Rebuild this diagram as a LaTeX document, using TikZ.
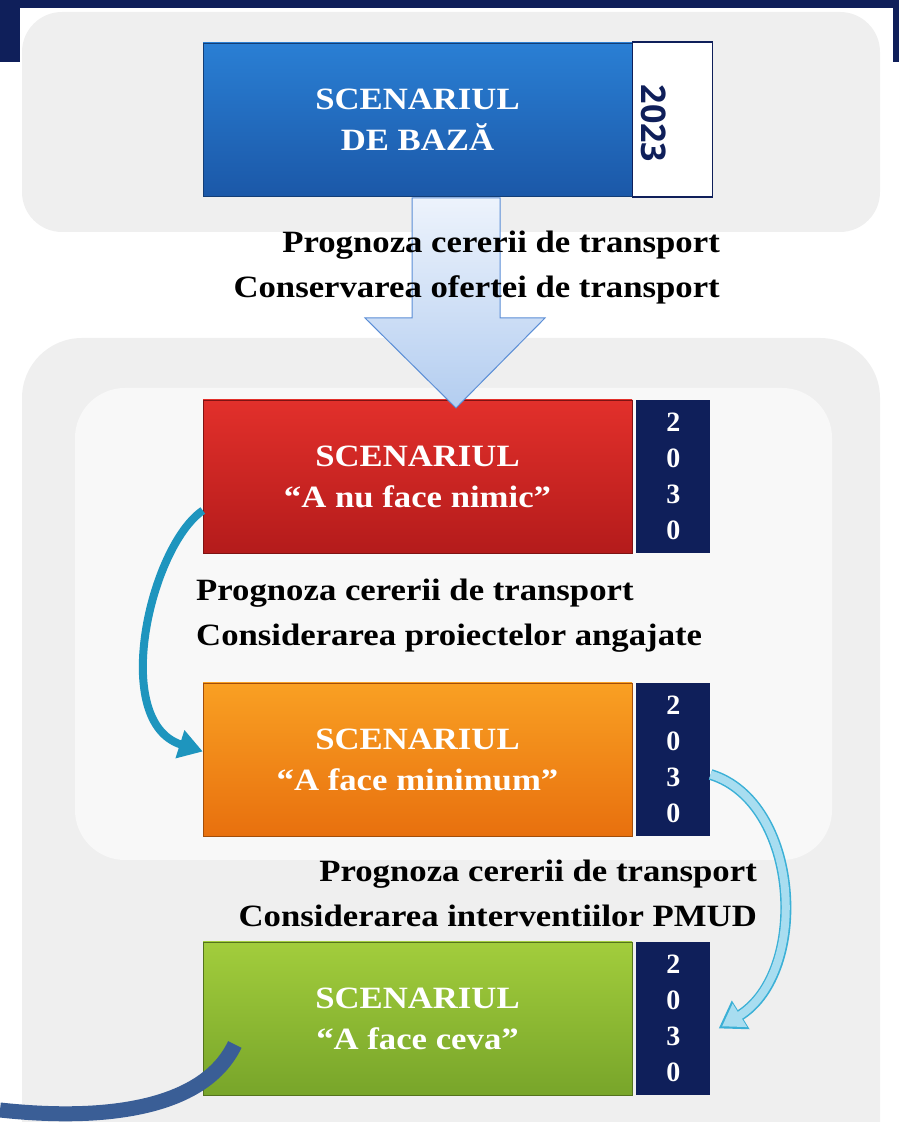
\documentclass[tikz,border=0pt]{standalone}
\usepackage{fontspec}
\setmainfont{Liberation Serif}
\newfontfamily\notefont[FakeStretch=1.12]{Liberation Serif}
\newfontfamily\yearfont{Open Sans}
\usetikzlibrary{positioning,arrows.meta,calc}

\definecolor{navy}{HTML}{0F1F5A}
\definecolor{panelgray}{HTML}{EFEFEF}
\definecolor{panellight}{HTML}{F8F8F8}
\definecolor{arrowline}{HTML}{5B8ED6}
\definecolor{arrowtop}{HTML}{EDF3FC}
\definecolor{arrowbot}{HTML}{B3CDF0}
\definecolor{tealblue}{HTML}{1E95BE}
\definecolor{skyfill}{HTML}{A8DDF0}
\definecolor{skyline}{HTML}{3BB0D6}
\definecolor{bandblue}{HTML}{3A5E96}
\definecolor{bluetop}{HTML}{2A7FD4}
\definecolor{bluebot}{HTML}{1B58A8}
\definecolor{redtop}{HTML}{E2302B}
\definecolor{redbot}{HTML}{B41B1B}
\definecolor{orangetop}{HTML}{F9A023}
\definecolor{orangebot}{HTML}{E8700E}
\definecolor{greentop}{HTML}{A2CD3C}
\definecolor{greenbot}{HTML}{78A52A}

\tikzset{
  scenbox/.style={minimum width=429pt, minimum height=153pt, inner sep=0pt,
    align=center, text=white, font=\fontsize{31}{41}\notefont\bfseries},
  yearbox/.style={minimum width=74pt, minimum height=153pt, inner sep=0pt,
    fill=navy, align=center, text=white, font=\fontsize{28}{36}\selectfont\bfseries},
  note/.style={inner sep=0pt, font=\fontsize{31}{45}\notefont\bfseries},
}

\begin{document}
\begin{tikzpicture}[x=1pt, y=1pt]
  \useasboundingbox (0,0) rectangle (899,1122);
  % panels
  \fill[panelgray, rounded corners=40pt] (22,890) rectangle (880,1110);
  \fill[panelgray, rounded corners=60pt] (22,-60) rectangle (880,784);
  \fill[panellight, rounded corners=50pt] (75,262) rectangle (832,734);
  % frame
  \fill[navy] (0,1114) rectangle (899,1122);
  \fill[navy] (0,1060) rectangle (20,1122);
  \fill[navy] (893,1060) rectangle (899,1122);

  % scenarios
  \node[scenbox, top color=bluetop, bottom color=bluebot, draw=bluebot!70!black]
        (base) at (417.5,1002.5) {SCENARIUL\\DE BAZĂ};
  \node[minimum width=80pt, minimum height=155pt, inner sep=0pt, fill=white,
        draw=navy, line width=1.2pt, right=0pt of base] (ybase) {};
  \node[rotate=-90, text=navy, font=\fontsize{34}{36}\selectfont\yearfont\bfseries]
        at ([xshift=-19pt,yshift=-4pt]ybase.center) {2023};

  \node[scenbox, top color=redtop, bottom color=redbot, draw=redbot!70!black]
        (nimic) at (417.5,645.5) {SCENARIUL\\“A nu face nimic”};
  \node[yearbox, right=4pt of nimic] (ynimic) {2\\0\\3\\0};

  \node[scenbox, top color=orangetop, bottom color=orangebot, draw=orangebot!70!black]
        (minimum) at (417.5,362.5) {SCENARIUL\\“A face minimum”};
  \node[yearbox, right=4pt of minimum] (yminimum) {2\\0\\3\\0};

  \node[scenbox, top color=greentop, bottom color=greenbot, draw=greenbot!70!black]
        (ceva) at (417.5,103.5) {SCENARIUL\\“A face ceva”};
  \node[yearbox, right=4pt of ceva] (yceva) {2\\0\\3\\0};

  % big arrow from base to nimic
  \coordinate (atop) at (456,924);
  \coordinate (atip) at (456,714);
  \shade[top color=arrowtop, bottom color=arrowbot, draw=arrowline, line width=1pt]
    ($(atop)+(-44,0)$) -- ($(atop)+(44,0)$) -- ($(atip)+(44,90)$) -- ($(atip)+(89,90)$)
    -- (atip) -- ($(atip)+(-91,90)$) -- ($(atip)+(-44,90)$) -- cycle;

  % labels
  \node[note, anchor=east, align=right] (n1) at (720,854)
    {Prognoza cererii de transport\\Conservarea ofertei de transport};
  \node[note, anchor=west, align=left] (n2) at (196,506)
    {Prognoza cererii de transport\\Considerarea proiectelor angajate};
  \node[note, anchor=east, align=right] (n3) at (757,229)
    {Prognoza cererii de transport\\Considerarea interventiilor PMUD};

  % curved connectors
  \draw[tealblue, line width=8pt, -{Triangle[width=28pt,length=24pt]}]
    ([yshift=-34pt]nimic.west) .. controls (150,575) and (110,400) .. ([yshift=8pt]minimum.west);
  \draw[skyline, line width=11pt, -{Triangle[width=32pt,length=26pt]}]
    ([yshift=-15pt]yminimum.east) .. controls (800,320) and (810,150) .. ([xshift=8pt,yshift=-10pt]yceva.east);
  \draw[skyfill, line width=8pt, shorten >=4pt, -{Triangle[width=26pt,length=21pt]}]
    ([yshift=-15pt]yminimum.east) .. controls (800,320) and (810,150) .. ([xshift=8pt,yshift=-10pt]yceva.east);
  \coordinate (bandend) at (0,12);
  \draw[bandblue, line width=15pt]
    ([xshift=32pt,yshift=-26pt]ceva.west) .. controls (205,15) and (110,0) .. (bandend);
\end{tikzpicture}
\end{document}
